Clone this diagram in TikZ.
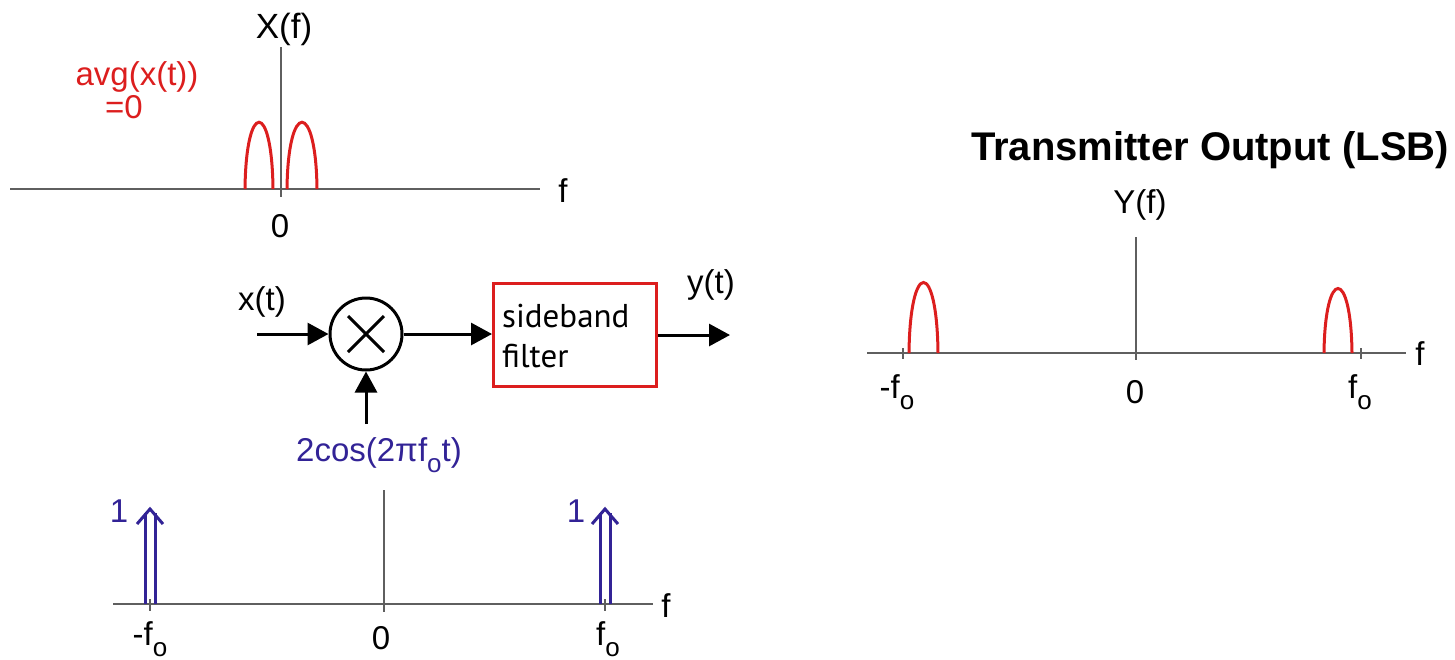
\documentclass[tikz,border=0pt]{standalone}
\usepackage{fontspec}
\setmainfont{Liberation Sans}
\newfontfamily\boxfont{PT Sans}
\usetikzlibrary{arrows.meta}
\definecolor{redc}{RGB}{220,30,30}
\definecolor{bluec}{RGB}{50,35,150}
\definecolor{axisc}{RGB}{95,95,95}
\newcommand\subo{\raisebox{-0.32em}{\fontsize{26}{26}\selectfont o}}
\begin{document}
\begin{tikzpicture}[x=1pt,y=-1pt,
  axis/.style={draw=axisc,line width=2.5pt},
  tick/.style={draw=axisc,line width=2pt},
  lbl/.style={font=\fontsize{33}{36}\selectfont, inner sep=0pt},
  bump/.style={draw=redc,line width=3pt},
  sig/.style={line width=3pt,-{Triangle[length=21pt,width=22pt]}},
  imp/.style={draw=bluec,line width=3pt}]
\useasboundingbox (0,0) rectangle (1455,659);

% ---------- top plot X(f)
\coordinate (xa1) at (10,189);
\coordinate (xa2) at (540,189);
\coordinate (xv1) at (281,47);
\coordinate (xv2) at (281,197);
\draw[axis] (xa1) -- (xa2);
\draw[axis] (xv1) -- (xv2);
\node[lbl,font=\fontsize{35}{38}\selectfont] (xf) at (284,29) {X(f)};
\node[lbl] (f1) at (563,191) {f};
\node[lbl] (z1) at (280,226) {0};
\node[lbl,text=redc] (avg) at (137,77) {avg(x(t))};
\node[lbl,text=redc] (avg0) at (124,107) {=0};
\draw[bump] (245,189) .. controls (246,100) and (272,100) .. (273,189);
\draw[bump] (287,189) .. controls (288,100) and (316,100) .. (317,189);

% ---------- block diagram
\node[lbl] (xt) at (262,302) {x(t)};
\coordinate (in) at (257,334);
\node[circle,draw,line width=3pt,minimum size=72pt,inner sep=0pt] (mix) at (366,334) {};
\draw[line width=3pt] ([shift={(-18,-18)}]mix.center) -- ([shift={(18,18)}]mix.center);
\draw[line width=3pt] ([shift={(18,-18)}]mix.center) -- ([shift={(-18,18)}]mix.center);
\node[draw=redc,line width=3pt,minimum width=163pt,minimum height=103pt,inner sep=0pt] (filt) at (575,335) {};
\node[font=\boxfont\fontsize{33}{40}\selectfont,align=left,anchor=west,inner sep=0pt] (ftxt) at (502,336) {sideband\\filter};
\coordinate (out) at (730,335);
\node[lbl] (yt) at (711,285) {y(t)};
\draw[sig] (in) -- (mix.west);
\draw[sig] (mix.east) -- (filt.west |- mix.east);
\draw[sig] (filt.east |- out) -- (out);
\coordinate (cin) at (366,424);
\draw[sig] (cin) -- (mix.south);
\node[lbl,text=bluec] (cos) at (379,455) {2cos(2πf\subo t)};

% ---------- bottom plot
\coordinate (ba1) at (113,604);
\coordinate (ba2) at (653,604);
\coordinate (bv1) at (384,490);
\coordinate (bv2) at (384,612);
\draw[axis] (ba1) -- (ba2);
\draw[axis] (bv1) -- (bv2);
\draw[tick] (150,599) -- (150,611);
\draw[tick] (605,599) -- (605,611);
\node[lbl] (bf) at (666,606) {f};
\node[lbl] (bm) at (150,639) {-f\subo};
\node[lbl] (b0) at (381,638) {0};
\node[lbl] (bp) at (608,639) {f\subo};
% impulses
\draw[imp] (145,604) -- (145,513);
\draw[imp] (155,604) -- (155,513);
\draw[imp,line join=miter] (137,524) -- (150,509) -- (163,524);
\draw[imp] (600,604) -- (600,513);
\draw[imp] (610,604) -- (610,513);
\draw[imp,line join=miter] (592,524) -- (605,509) -- (618,524);
\node[lbl,text=bluec] (one1) at (119,511) {1};
\node[lbl,text=bluec] (one2) at (576,511) {1};

% ---------- right plot Y(f)
\node[font=\bfseries\fontsize{40}{44}\selectfont,inner sep=0pt] (title) at (1210,150) {Transmitter Output (LSB)};
\coordinate (ra1) at (867,353);
\coordinate (ra2) at (1406,353);
\coordinate (rv1) at (1136,237);
\coordinate (rv2) at (1136,360);
\draw[axis] (ra1) -- (ra2);
\draw[axis] (rv1) -- (rv2);
\draw[tick] (903,348) -- (903,359);
\draw[tick] (1361,348) -- (1361,359);
\node[lbl] (yf) at (1140,205) {Y(f)};
\node[lbl] (rf) at (1420,354) {f};
\node[lbl] (rm) at (897,392) {-f\subo};
\node[lbl] (r0) at (1135,392) {0};
\node[lbl] (rp) at (1360,392) {f\subo};
\draw[bump] (909,353) .. controls (910,259) and (937,259) .. (938,353);
\draw[bump] (1324,353) .. controls (1325,267) and (1351,267) .. (1352,353);
\end{tikzpicture}
\end{document}
